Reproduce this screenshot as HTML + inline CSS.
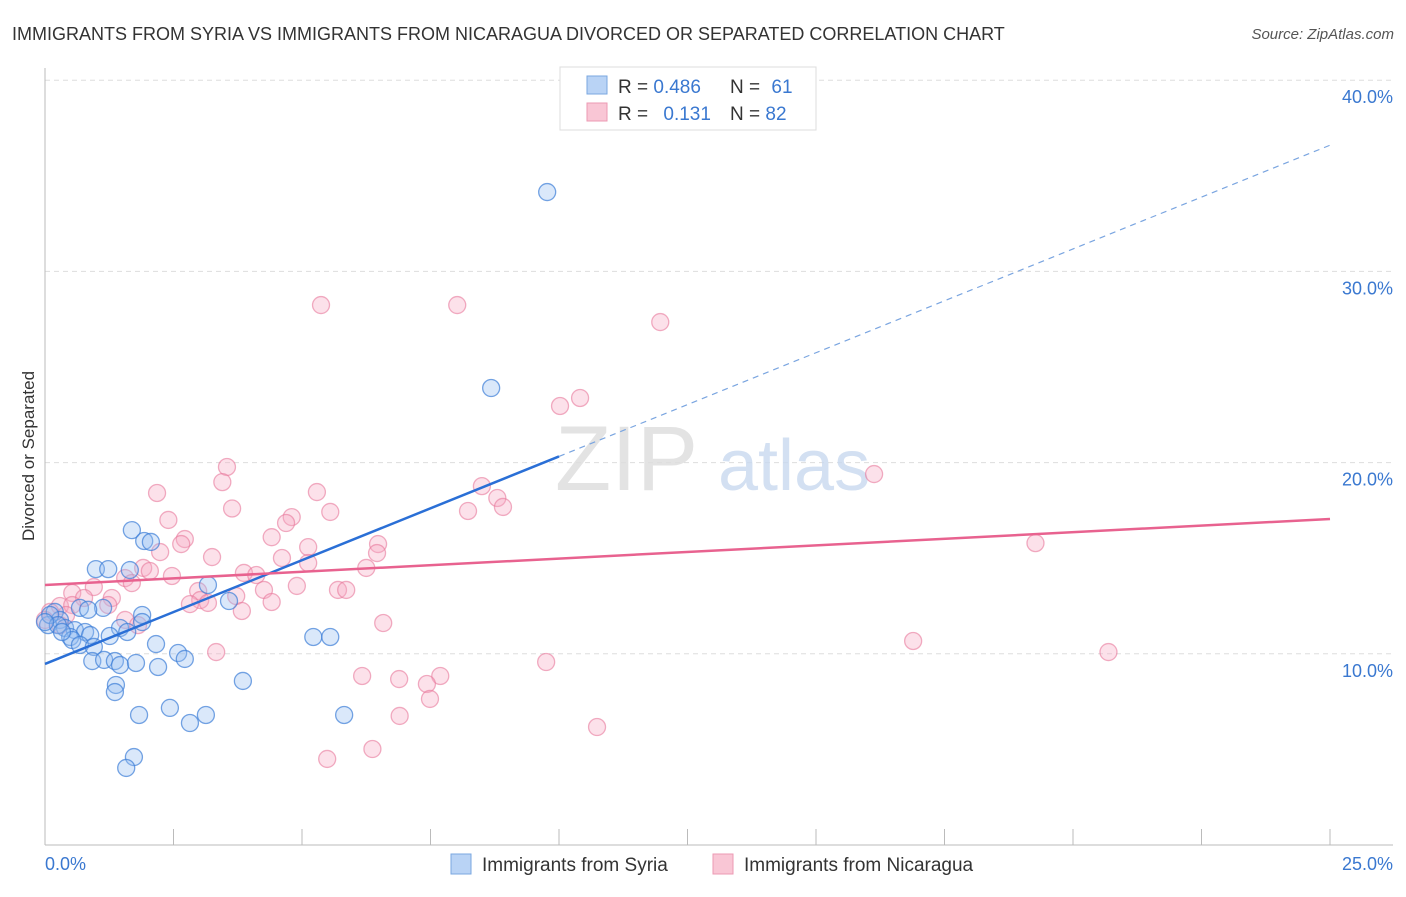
<!DOCTYPE html>
<html><head><meta charset="utf-8"><style>
body{margin:0;background:#fff;font-family:"Liberation Sans",sans-serif;}
svg text{font-family:"Liberation Sans",sans-serif;}
</style></head><body>
<svg id="chart" width="1406" height="892" xmlns="http://www.w3.org/2000/svg">
<text x="12" y="40" font-size="18" fill="#333">IMMIGRANTS FROM SYRIA VS IMMIGRANTS FROM NICARAGUA DIVORCED OR SEPARATED CORRELATION CHART</text>
<text x="1394" y="39" font-size="15" fill="#555" text-anchor="end" font-style="italic">Source: ZipAtlas.com</text>
<g id="grid"></g>
<text x="555" y="490" font-size="92" fill="#ddd" font-family="Liberation Serif" opacity="0.8">ZIP</text>
<text x="718" y="490" font-size="72" fill="#c9d9ef" opacity="0.8">atlas</text>
<g id="pts"></g>
<g id="lines"></g>
<text transform="translate(34,456) rotate(-90)" font-size="17" fill="#333" text-anchor="middle">Divorced or Separated</text>
<text x="45" y="870" font-size="18" fill="#3a78d0">0.0%</text>
<text x="1393" y="870" font-size="18" fill="#3a78d0" text-anchor="end">25.0%</text>
<g>
<rect x="560" y="67" width="256" height="63" fill="#fff" stroke="#ddd"/>
<rect x="587" y="76" width="20" height="18" fill="#b9d3f5" stroke="#7aa7e0"/>
<rect x="587" y="103" width="20" height="18" fill="#f9c6d5" stroke="#ec9ab3"/>
<text x="618" y="93" font-size="19" fill="#333">R = <tspan fill="#3a78d0">0.486</tspan></text>
<text x="730" y="93" font-size="19" fill="#333">N = <tspan fill="#3a78d0" dx="6">61</tspan></text>
<text x="618" y="120" font-size="19" fill="#333">R = <tspan fill="#3a78d0" dx="10">0.131</tspan></text>
<text x="730" y="120" font-size="19" fill="#333">N = <tspan fill="#3a78d0">82</tspan></text>
</g>
<g>
<rect x="451" y="854" width="20" height="20" fill="#b9d3f5" stroke="#7aa7e0"/>
<text x="482" y="871" font-size="19" fill="#333">Immigrants from Syria</text>
<rect x="713" y="854" width="20" height="20" fill="#f9c6d5" stroke="#ec9ab3"/>
<text x="744" y="871" font-size="19" fill="#333">Immigrants from Nicaragua</text>
</g>
</svg>
<script>
const yTicks=[10,20,30,40];
const yTickLabels=["10.0%","20.0%","30.0%","40.0%"];
const xTicks=[0,2.5,5,7.5,10,12.5,15,17.5,20,22.5,25];
const syriaX=[9.77,8.68,1.69,1.93,2.06,0.99,1.23,1.65,3.17,3.58,0.68,1.13,1.89,0.19,0.29,0.06,0.39,0.58,0.78,1.46,1.6,0.49,0.88,1.26,2.16,5.22,5.55,0.53,0.68,0.95,2.59,2.72,0.92,1.15,1.36,1.46,1.77,2.2,3.85,1.38,1.36,1.83,2.43,3.13,2.82,5.82,1.73,1.58,0.1,0.25,0,0.84,1.89,0.33];
const syriaY=[34.15,23.9,16.47,15.9,15.85,14.43,14.43,14.38,13.6,12.76,12.4,12.4,12.03,12.19,11.77,11.5,11.35,11.24,11.14,11.35,11.14,10.88,10.98,10.93,10.51,10.88,10.88,10.72,10.46,10.36,10.04,9.73,9.62,9.68,9.62,9.41,9.52,9.31,8.58,8.37,8.0,6.8,7.17,6.8,6.38,6.8,4.6,4.03,12.03,11.5,11.66,12.3,11.66,11.14];
const nicX=[5.37,8.02,11.97,10.41,10.02,3.54,16.13,3.45,8.5,2.18,5.29,8.8,8.91,3.64,8.23,5.55,2.4,4.8,4.69,4.41,2.72,2.65,6.48,19.27,5.12,2.24,6.46,3.25,4.61,5.12,6.25,1.91,2.04,1.56,2.47,3.87,4.11,1.69,0.95,4.9,4.26,2.98,5.7,5.86,3.72,0.53,1.3,0.76,3.02,3.17,2.82,4.41,1.23,0.29,0.53,3.83,0.1,0.41,1.56,1.81,6.58,0,3.33,16.89,20.69,9.75,6.17,7.69,6.89,7.43,7.49,6.9,10.74,6.37,5.49,0.29];
const nicY=[28.24,28.24,27.35,23.38,22.96,19.77,19.4,18.98,18.77,18.41,18.46,18.15,17.68,17.6,17.47,17.42,17.0,17.15,16.84,16.1,16.0,15.74,15.74,15.79,15.58,15.32,15.27,15.06,15.01,14.75,14.49,14.49,14.33,13.96,14.07,14.23,14.12,13.7,13.49,13.55,13.34,13.28,13.34,13.34,13.02,13.18,12.92,12.92,12.81,12.66,12.6,12.71,12.55,12.5,12.55,12.24,12.19,12.03,11.77,11.5,11.61,11.77,10.09,10.67,10.09,9.57,8.84,8.84,8.68,8.42,7.64,6.75,6.17,5.02,4.5,11.5];
const syriaTrend=[9.47,36.6];
const nicTrend=[13.6,17.05];
const xs=v=>45+v/25*1285;
const ys=v=>845-v*19.12;
const NS="http://www.w3.org/2000/svg";
function mk(t,a,p){const e=document.createElementNS(NS,t);for(const k in a)e.setAttribute(k,a[k]);p.appendChild(e);return e;}
const grid=document.getElementById('grid');
yTicks.forEach((t,i)=>{
 const l=mk('line',{x1:45,x2:1393,y1:ys(t),y2:ys(t),stroke:'#ddd','stroke-dasharray':'5,4'},grid);
 
 
 const tx=mk('text',{x:1393,y:ys(t)+23,'font-size':18,fill:'#3a78d0','text-anchor':'end'},grid);
 tx.textContent=yTickLabels[i];
 
 
});
const ax=mk('line',{x1:45,x2:45,y1:68,y2:845,stroke:'#bbb'},grid);


const bx=mk('line',{x1:45,x2:1393,y1:845,y2:845,stroke:'#bbb'},grid);


xTicks.forEach(t=>{
 const l=mk('line',{x1:xs(t),x2:xs(t),y1:829,y2:845,stroke:'#bbb'},grid);
 
 
});
const pts=document.getElementById('pts');
nicX.forEach((x,i)=>{
 const c=mk('circle',{cx:xs(x),cy:ys(nicY[i]),r:8.5,fill:'rgba(246,170,195,0.35)',stroke:'rgba(232,120,155,0.6)','stroke-width':1.3},pts);
 
 
});
syriaX.forEach((x,i)=>{
 const c=mk('circle',{cx:xs(x),cy:ys(syriaY[i]),r:8.5,fill:'rgba(150,190,240,0.35)',stroke:'rgba(60,125,215,0.7)','stroke-width':1.3},pts);
 
 
});
const lines=document.getElementById('lines');
const sy=x=>syriaTrend[0]+(syriaTrend[1]-syriaTrend[0])*x/25;
const l1=mk('line',{x1:xs(0),y1:ys(sy(0)),x2:xs(10),y2:ys(sy(10)),stroke:'#2a6fd6','stroke-width':2.5},lines);


const l2=mk('line',{x1:xs(10),y1:ys(sy(10)),x2:xs(25),y2:ys(sy(25)),stroke:'#7aa5e0','stroke-width':1.2,'stroke-dasharray':'6,5'},lines);


const l3=mk('line',{x1:xs(0),y1:ys(nicTrend[0]),x2:xs(25),y2:ys(nicTrend[1]),stroke:'#e8628f','stroke-width':2.5},lines);


</script>
</body></html>
